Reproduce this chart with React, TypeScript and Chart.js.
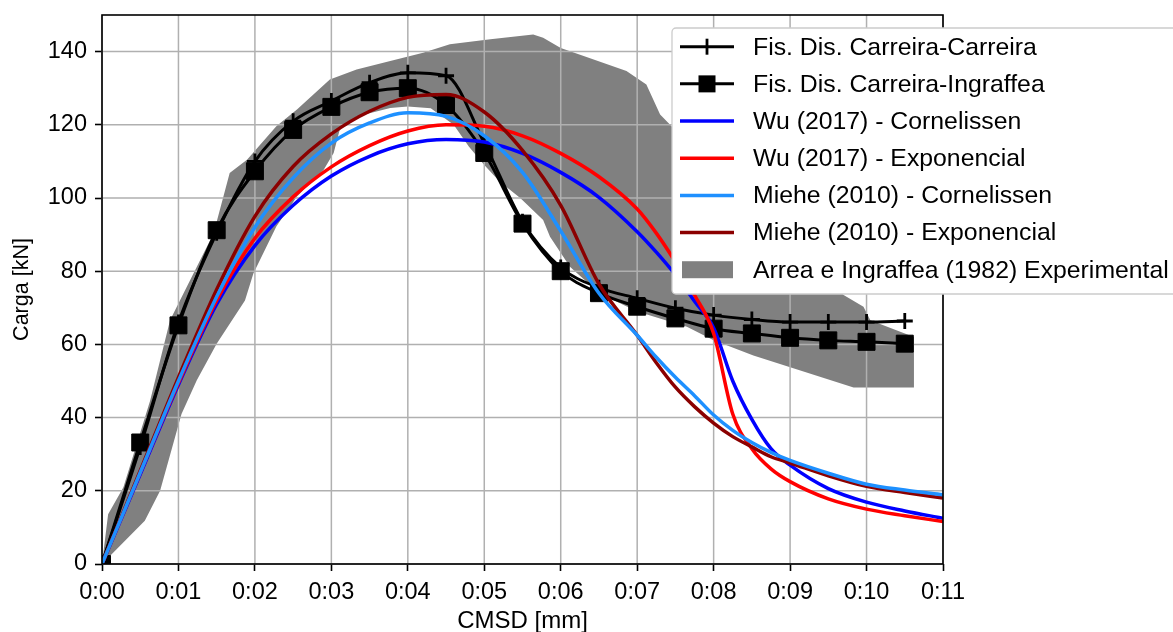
import { useEffect, useRef } from 'react';
import { Chart, registerables } from 'chart.js';

Chart.register(...registerables);

// ---------- data ----------
const xTickValues = [0, 0.01, 0.02, 0.03, 0.04, 0.05, 0.06, 0.07, 0.08, 0.09, 0.1, 0.11];
const yTickValues = [0, 20, 40, 60, 80, 100, 120, 140];

const legendLabels = [
  'Fis. Dis. Carreira-Carreira',
  'Fis. Dis. Carreira-Ingraffea',
  'Wu (2017) - Cornelissen',
  'Wu (2017) - Exponencial',
  'Miehe (2010) - Cornelissen',
  'Miehe (2010) - Exponencial',
  'Arrea e Ingraffea (1982) Experimental',
];

const fisX = [0, 0.005, 0.01, 0.015, 0.02, 0.025, 0.03, 0.035, 0.04, 0.045, 0.05, 0.055, 0.06, 0.065, 0.07, 0.075, 0.08, 0.085, 0.09, 0.095, 0.1, 0.105];
const fisCarreiraY = [0, 32, 66, 90.5, 110, 121, 126.5, 131.5, 134.2, 133.4, 115, 93.5, 81, 75.5, 72.6, 69.9, 68, 66.8, 66.1, 66.1, 66.1, 66.4];
const fisIngraffeaY = [0, 33.2, 65.2, 91.2, 107.3, 118.6, 124.9, 128.9, 130, 125.4, 112.3, 93, 80, 74, 70.3, 67.1, 64.3, 63, 61.8, 61.1, 60.7, 60.2];

const modelX = [0, 0.005, 0.01, 0.015, 0.02, 0.025, 0.03, 0.035, 0.04, 0.045, 0.05, 0.055, 0.06, 0.065, 0.07, 0.0725, 0.075, 0.0775, 0.08, 0.0825, 0.085, 0.0875, 0.09, 0.095, 0.1, 0.105, 0.11];
const wuCornelissenY = [0, 24.5, 49, 71, 87, 98, 106, 111.4, 114.8, 116, 115.3, 112.2, 107, 100.2, 90.8, 85.2, 79, 71.8, 64.5, 50, 39.5, 31.5, 27, 20.6, 16.9, 14.5, 12.5];
const wuExponencialY = [0, 25, 49.5, 72, 89, 100.3, 108.5, 114.3, 118.3, 120, 119.6, 117, 112.2, 105.8, 97, 90.4, 82.5, 73.5, 63, 41, 31.5, 26, 22.5, 17.8, 15, 13.2, 11.6];
const mieheCornelissenY = [0, 25, 50, 73, 92, 105.5, 115, 120.5, 123.3, 122.3, 117, 107, 91, 74, 62.5, 56.5, 51, 46, 40.7, 36.5, 33.2, 30.5, 28.3, 24.8, 21.8, 20.2, 18.9];
const mieheExponencialY = [0, 25.5, 51, 75, 95, 108.6, 117.5, 123.7, 127.5, 128.3, 123.5, 113, 98, 76.5, 62.5, 55, 48.3, 43, 38.5, 34.8, 32, 29.3, 27.6, 24.1, 21.2, 19.5, 18];

// experimental envelope: upper and lower boundaries (left to right)
const expUpperX = [0, 0.0008, 0.0028, 0.0063, 0.0089, 0.0146, 0.0167, 0.019, 0.0228, 0.0255, 0.0298, 0.0333, 0.0377, 0.042, 0.0455, 0.0508, 0.0564, 0.0577, 0.06, 0.063, 0.0686, 0.0712, 0.073, 0.0745, 0.085, 0.097, 0.0996, 0.1005, 0.1062];
const expUpperY = [0, 13.6, 21, 44.7, 66.6, 90.4, 106.8, 110.5, 119.6, 124.2, 132.4, 135.1, 137.4, 139.7, 142, 143.4, 144.7, 143.8, 141, 138.8, 134.7, 131, 122.8, 119.6, 95, 73.5, 70.3, 66.6, 62];
const expLowerX = [0, 0.0056, 0.0076, 0.0104, 0.0124, 0.015, 0.0187, 0.0198, 0.0228, 0.0255, 0.029, 0.0303, 0.0311, 0.0333, 0.0377, 0.04, 0.043, 0.046, 0.048, 0.05, 0.052, 0.0547, 0.0577, 0.0586, 0.0612, 0.0651, 0.07, 0.0765, 0.08, 0.0852, 0.0983, 0.1062];
const expLowerY = [0, 11.8, 20, 41, 50.2, 60.2, 72, 79.4, 92.2, 100.4, 107.7, 112.3, 118.7, 122.3, 124.6, 125, 124.5, 120, 114, 109, 104.5, 100, 94, 89.4, 81.2, 73.9, 69, 64.8, 61.1, 57, 48.2, 48.2];

// ---------- helpers ----------
const pts = (xs: number[], ys: number[]) => xs.map((x, i) => ({ x, y: ys[i] }));
const bandPolygon = [
  ...pts(expUpperX, expUpperY),
  ...pts(expLowerX, expLowerY).reverse(),
];

const FONT = "'Liberation Sans', Arial, sans-serif";
const BAND_INDEX = 6;

const legendHandles = [
  { kind: 'plus', color: '#000000' },
  { kind: 'square', color: '#000000' },
  { kind: 'line', color: '#0000ff' },
  { kind: 'line', color: '#ff0000' },
  { kind: 'line', color: '#1e90ff' },
  { kind: 'line', color: '#8b0000' },
  { kind: 'patch', color: '#808080' },
];

const customPlugin = {
  id: 'customDecor',
  afterDatasetDraw(chart: any, args: any) {
    if (args.index !== BAND_INDEX) return;
    const { ctx, chartArea: a, scales } = chart;
    ctx.save();
    ctx.strokeStyle = '#b0b0b0';
    ctx.lineWidth = 1.5;
    ctx.beginPath();
    for (const v of xTickValues) {
      const px = scales.x.getPixelForValue(v);
      ctx.moveTo(px, a.top);
      ctx.lineTo(px, a.bottom);
    }
    for (const v of yTickValues) {
      const py = scales.y.getPixelForValue(v);
      ctx.moveTo(a.left, py);
      ctx.lineTo(a.right, py);
    }
    ctx.stroke();
    ctx.restore();
  },
  afterDatasetsDraw(chart: any) {
    const { ctx, chartArea: a } = chart;
    ctx.save();
    ctx.strokeStyle = '#000000';
    ctx.lineWidth = 1.6;
    ctx.strokeRect(a.left, a.top, a.right - a.left, a.bottom - a.top);
    ctx.restore();
  },
  afterDraw(chart: any) {
    const ctx = chart.ctx;
    ctx.save();
    const x0 = 672, y0 = 28, w = 520, h = 266, r = 4;
    ctx.beginPath();
    ctx.moveTo(x0 + r, y0);
    ctx.lineTo(x0 + w - r, y0);
    ctx.arcTo(x0 + w, y0, x0 + w, y0 + r, r);
    ctx.lineTo(x0 + w, y0 + h - r);
    ctx.arcTo(x0 + w, y0 + h, x0 + w - r, y0 + h, r);
    ctx.lineTo(x0 + r, y0 + h);
    ctx.arcTo(x0, y0 + h, x0, y0 + h - r, r);
    ctx.lineTo(x0, y0 + r);
    ctx.arcTo(x0, y0, x0 + r, y0, r);
    ctx.closePath();
    ctx.fillStyle = '#ffffff';
    ctx.fill();
    ctx.strokeStyle = '#cccccc';
    ctx.lineWidth = 1.3;
    ctx.stroke();

    ctx.font = `24.8px ${FONT}`;
    ctx.textBaseline = 'middle';
    ctx.textAlign = 'left';
    legendLabels.forEach((label, i) => {
      const cy = 46.7 + i * 37.17;
      const hd = legendHandles[i];
      ctx.strokeStyle = hd.color;
      ctx.fillStyle = hd.color;
      if (hd.kind === 'patch') {
        ctx.fillRect(682, cy - 8.5, 51, 17);
      } else {
        ctx.lineWidth = hd.kind === 'line' ? 3.5 : 3;
        ctx.beginPath();
        ctx.moveTo(680, cy);
        ctx.lineTo(734, cy);
        ctx.stroke();
        if (hd.kind === 'plus') {
          ctx.lineWidth = 2.8;
          ctx.beginPath();
          ctx.moveTo(707, cy - 8);
          ctx.lineTo(707, cy + 8);
          ctx.stroke();
        } else if (hd.kind === 'square') {
          ctx.fillRect(707 - 8.5, cy - 8.5, 17, 17);
        }
      }
      ctx.fillStyle = '#000000';
      ctx.fillText(label, 753, cy + 1);
    });
    ctx.restore();
  },
};

export default function App() {
  const canvasRef = useRef<HTMLCanvasElement | null>(null);

  useEffect(() => {
    if (!canvasRef.current) return;
    Chart.defaults.font.family = FONT;
    Chart.defaults.color = '#000000';

    const modelLine = (label: string, ys: number[], color: string) => ({
      label,
      data: pts(modelX, ys),
      borderColor: color,
      backgroundColor: color,
      borderWidth: 3.5,
      pointRadius: 0,
      cubicInterpolationMode: 'monotone' as const,
      fill: false,
      clip: 0,
    });

    const chart = new Chart(canvasRef.current, {
      type: 'line',
      data: {
        datasets: [
          modelLine(legendLabels[4], mieheCornelissenY, '#1e90ff'),
          modelLine(legendLabels[5], mieheExponencialY, '#8b0000'),
          modelLine(legendLabels[3], wuExponencialY, '#ff0000'),
          modelLine(legendLabels[2], wuCornelissenY, '#0000ff'),
          {
            label: legendLabels[1],
            data: pts(fisX, fisIngraffeaY),
            borderColor: '#000000',
            backgroundColor: '#000000',
            borderWidth: 3,
            pointStyle: 'rect',
            pointRadius: 12,
            pointBorderWidth: 1,
            pointBackgroundColor: '#000000',
            pointBorderColor: '#000000',
            cubicInterpolationMode: 'monotone' as const,
            fill: false,
            clip: 0,
          },
          {
            label: legendLabels[0],
            data: pts(fisX, fisCarreiraY),
            borderColor: '#000000',
            backgroundColor: '#000000',
            borderWidth: 3,
            pointStyle: 'cross',
            pointRadius: 8,
            pointBorderWidth: 2.8,
            pointBorderColor: '#000000',
            cubicInterpolationMode: 'monotone' as const,
            fill: false,
            clip: 0,
          },
          {
            label: legendLabels[6],
            data: bandPolygon,
            borderColor: 'rgba(0,0,0,0)',
            backgroundColor: '#808080',
            borderWidth: 1,
            pointRadius: 0,
            tension: 0,
            fill: 'shape',
            clip: 0,
          },
        ],
      },
      options: {
        responsive: false,
        animation: false,
        devicePixelRatio: 1,
        layout: { padding: { top: 15, right: 230, left: 0, bottom: 0 } },
        plugins: {
          legend: { display: false },
          tooltip: { enabled: false },
        },
        events: [],
        scales: {
          x: {
            type: 'linear',
            min: 0,
            max: 0.11,
            afterBuildTicks: (scale: any) => {
              scale.ticks = xTickValues.map((v) => ({ value: v }));
            },
            afterFit: (scale: any) => {
              scale.height = 68;
            },
            ticks: {
              autoSkip: false,
              maxRotation: 0,
              padding: 7,
              color: '#000000',
              font: { size: 23.5, family: FONT },
              callback: (v: any) => Number(v).toFixed(2).replace('.', ':'),
            },
            grid: {
              drawOnChartArea: false,
              drawTicks: true,
              tickLength: 7,
              tickWidth: 1.6,
              tickColor: '#000000',
              color: '#b0b0b0',
            },
            border: { display: false },
            title: {
              display: true,
              text: 'CMSD [mm]',
              color: '#000000',
              font: { size: 24, family: FONT, lineHeight: 0.85 },
              padding: { top: 0, bottom: 0 },
            },
          },
          y: {
            type: 'linear',
            min: 0,
            max: 150,
            afterBuildTicks: (scale: any) => {
              scale.ticks = yTickValues.map((v) => ({ value: v }));
            },
            afterFit: (scale: any) => {
              scale.width = 102;
              scale.paddingTop = 0;
              scale.paddingBottom = 0;
            },
            ticks: {
              autoSkip: false,
              padding: 8,
              color: '#000000',
              font: { size: 23.5, family: FONT },
              callback: (v: any) => String(v),
            },
            grid: {
              drawOnChartArea: false,
              drawTicks: true,
              tickLength: 7,
              tickWidth: 1.6,
              tickColor: '#000000',
              color: '#b0b0b0',
            },
            border: { display: false },
            title: {
              display: true,
              text: 'Carga [kN]',
              color: '#000000',
              font: { size: 21.5, family: FONT, lineHeight: 1 },
              padding: { top: 11.5, bottom: 0 },
            },
          },
        },
      },
      plugins: [customPlugin],
    } as any);

    return () => chart.destroy();
  }, []);

  return (
    <div style={{ position: 'absolute', left: 0, top: 0, width: 1173, height: 632, background: '#ffffff' }}>
      <canvas ref={canvasRef} width={1173} height={632} style={{ display: 'block', width: 1173, height: 632 }} />
    </div>
  );
}
